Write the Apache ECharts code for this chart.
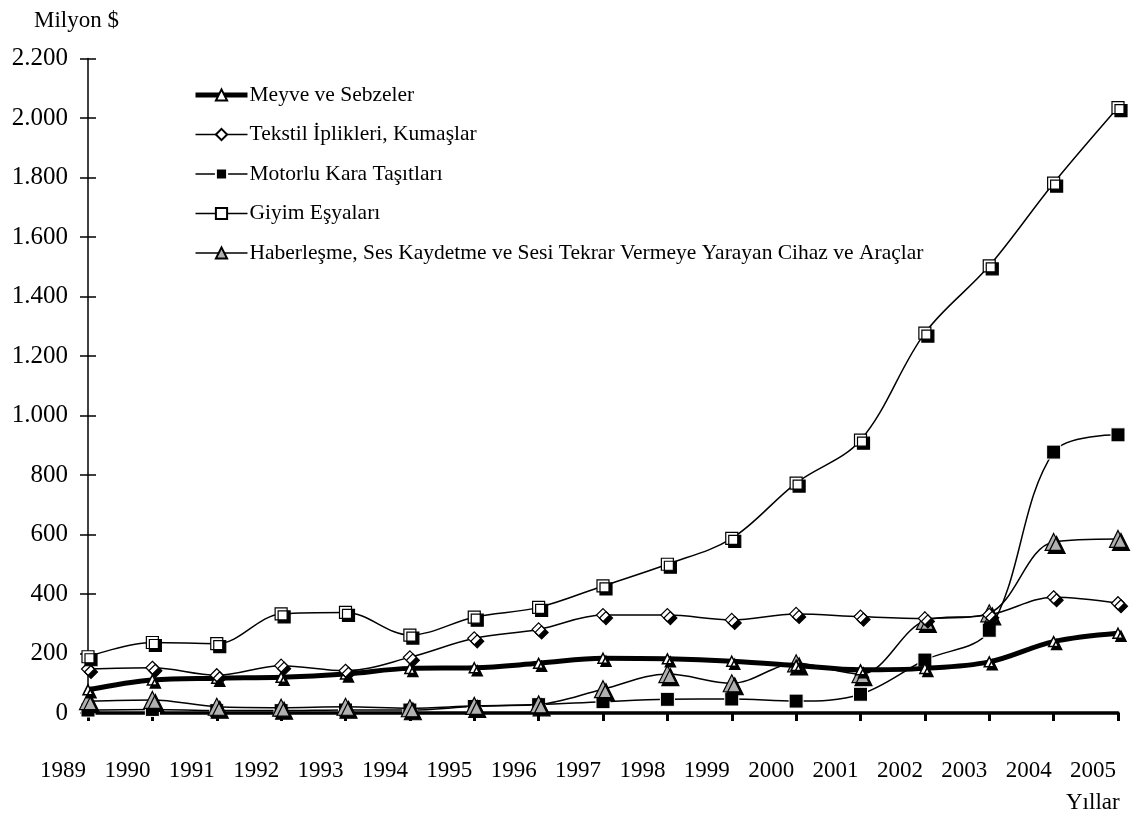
<!DOCTYPE html>
<html><head><meta charset="utf-8">
<script src="https://cdn.jsdelivr.net/npm/echarts@6/dist/echarts.min.js"></script>
<style>html,body{margin:0;padding:0;background:#fff}#c{width:1132px;height:816px}</style>
</head><body><div id="c"></div>
<script>
const years = ['1989','1990','1991','1992','1993','1994','1995','1996','1997','1998','1999','2000','2001','2002','2003','2004','2005'];
const meyve = [78,111,117,120,131,150,152,167,184,182,174,160,145,150,172,240,268];
const tekstil = [148,152,127,159,142,187,251,281,329,329,313,333,324,318,330,389,369];
const motorlu = [10,12,8,8,10,10,22,28,38,46,47,40,63,178,278,877,935];
const giyim = [189,237,233,333,338,262,322,355,427,500,587,773,917,1277,1503,1781,2035];
const haber = [40,44,21,18,21,16,24,29,80,131,100,167,131,310,335,575,585];
const names = ['Meyve ve Sebzeler','Tekstil İplikleri, Kumaşlar','Motorlu Kara Taşıtları','Giyim Eşyaları','Haberleşme, Ses Kaydetme ve Sesi Tekrar Vermeye Yarayan Cihaz ve Araçlar'];
const yTicks = {min:0,max:2200,interval:200};

const font = 'Liberation Serif';
const chart = echarts.init(document.getElementById('c'));
const shadow = {shadowColor:'#000',shadowOffsetX:3,shadowOffsetY:3,shadowBlur:0};
function fmt(v){return String(v).replace(/\B(?=(\d{3})+(?!\d))/g,'.');}
const legendWidths = [5,1.5,1.5,1.5,1.5];
chart.setOption({
  animation:false,
  backgroundColor:'#fff',
  textStyle:{fontFamily:font,color:'#000'},
  grid:{left:88,right:14,top:58.5,bottom:103,containLabel:false},
  title:[
    {text:'Milyon $',left:29,top:4,textStyle:{fontFamily:font,fontSize:23,fontWeight:'normal',color:'#000'}},
    {text:'Yıllar',left:1061,top:786,textStyle:{fontFamily:font,fontSize:23,fontWeight:'normal',color:'#000'}}
  ],
  legend:{
    orient:'vertical',left:193,top:83,padding:0,itemWidth:52,itemHeight:14,itemGap:15.5,
    textStyle:{fontFamily:font,fontSize:21.5,color:'#000',lineHeight:24,padding:[0,0,0,-3]},
    data:names.map((n,i)=>({name:n,lineStyle:{width:legendWidths[i],color:'#000'}}))
  },
  xAxis:{
    type:'category',data:years,boundaryGap:false,
    axisLine:{lineStyle:{color:'#000',width:3.5}},
    axisTick:{show:true,length:8,lineStyle:{color:'#000',width:3},alignWithLabel:true},
    axisLabel:{fontFamily:font,fontSize:23,color:'#000',margin:46,interval:0,padding:[0,50,0,0],hideOverlap:false},
    splitLine:{show:false}
  },
  yAxis:[
    {type:'value',min:yTicks.min,max:yTicks.max,interval:yTicks.interval,position:'left',
     axisLine:{show:true,lineStyle:{color:'#000',width:1.5}},
     axisTick:{show:true,length:8,lineStyle:{color:'#000',width:1.5}},
     axisLabel:{fontFamily:font,fontSize:25,color:'#000',margin:20,formatter:fmt},
     splitLine:{show:false}},
    {type:'value',min:yTicks.min,max:yTicks.max,interval:yTicks.interval,position:'left',offset:0,
     axisLine:{show:false},
     axisTick:{show:true,inside:true,length:8,lineStyle:{color:'#000',width:1.5}},
     axisLabel:{show:false},splitLine:{show:false}}
  ],
  series:[
    {name:names[4],type:'line',data:haber,smooth:0.35,symbol:'triangle',symbolSize:17,
     lineStyle:{color:'#000',width:1.5},itemStyle:Object.assign({color:'#b0b0b0',borderColor:'#000',borderWidth:1.2},shadow),z:3},
    {name:names[2],type:'line',data:motorlu,smooth:0.35,symbol:'rect',symbolSize:14,
     lineStyle:{color:'#000',width:1.5},itemStyle:{color:'#000',borderColor:'#fff',borderWidth:1},z:2},
    {name:names[0],type:'line',data:meyve,smooth:0.35,symbol:'triangle',symbolSize:10,
     lineStyle:{color:'#000',width:5},itemStyle:Object.assign({color:'#fff',borderColor:'#000',borderWidth:1.5},shadow),z:4},
    {name:names[1],type:'line',data:tekstil,smooth:0.35,symbol:'diamond',symbolSize:13,
     lineStyle:{color:'#000',width:1.5},itemStyle:Object.assign({color:'#fff',borderColor:'#000',borderWidth:1.2},shadow),z:5},
    {name:names[3],type:'line',data:giyim,smooth:0.35,symbol:'rect',symbolSize:12,
     lineStyle:{color:'#000',width:1.5},itemStyle:Object.assign({color:'#fff',borderColor:'#000',borderWidth:1.2},shadow),z:5}
  ]
});
</script></body></html>
